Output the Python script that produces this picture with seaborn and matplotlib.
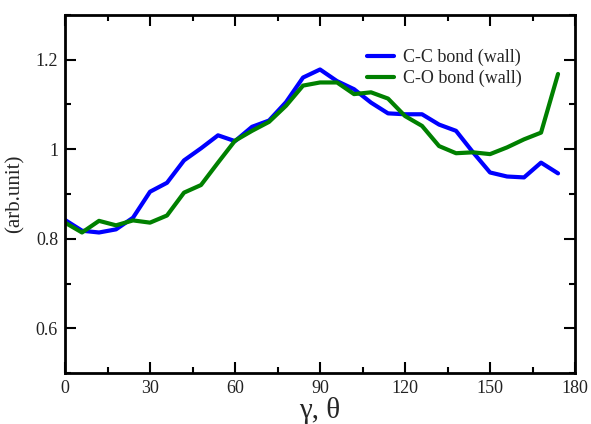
import matplotlib
matplotlib.use("Agg")
import matplotlib.pyplot as plt
import seaborn as sns
import pandas as pd
import numpy as np
from matplotlib.ticker import MultipleLocator

angles = [0, 6, 12, 18, 24, 30, 36, 42, 48, 54, 60, 66, 72, 78, 84, 90, 96, 102,
          108, 114, 120, 126, 132, 138, 144, 150, 156, 162, 168, 174]
cc_bond = [0.842, 0.818, 0.814, 0.821, 0.847, 0.905, 0.925, 0.975, 1.002, 1.031,
           1.018, 1.050, 1.064, 1.105, 1.160, 1.178, 1.152, 1.134, 1.104, 1.080,
           1.078, 1.078, 1.055, 1.041, 0.993, 0.948, 0.939, 0.937, 0.970, 0.946]
co_bond = [0.836, 0.814, 0.840, 0.830, 0.841, 0.836, 0.852, 0.903, 0.920, 0.970,
           1.019, 1.041, 1.061, 1.097, 1.142, 1.149, 1.149, 1.123, 1.127, 1.113,
           1.074, 1.052, 1.007, 0.991, 0.993, 0.989, 1.004, 1.022, 1.037, 1.168]
series_names = ["C-C bond (wall)", "C-O bond (wall)"]

df = pd.DataFrame({
    "angle": angles * 2,
    "value": cc_bond + co_bond,
    "series": [series_names[0]] * len(angles) + [series_names[1]] * len(angles),
})

sns.set_style("ticks")
plt.rcParams["font.family"] = ["Liberation Serif", "DejaVu Serif"]

fig = plt.figure(figsize=(5.91, 4.24), dpi=100)
ax = fig.add_axes([0.110, 0.120, 0.863, 0.845])

sns.lineplot(data=df, x="angle", y="value", hue="series",
             palette=["#0000ff", "#008000"], linewidth=3.0, ax=ax,
             sort=False)

ax.set_xlim(0, 180)
ax.set_ylim(0.5, 1.3)
ax.xaxis.set_major_locator(MultipleLocator(30))
ax.xaxis.set_minor_locator(MultipleLocator(15))
ax.yaxis.set_major_locator(MultipleLocator(0.2))
ax.yaxis.set_minor_locator(MultipleLocator(0.1))
ax.set_yticks([0.6, 0.8, 1.0, 1.2])
ax.set_yticklabels(["0.6", "0.8", "1", "1.2"])

ax.tick_params(which="both", direction="in", top=True, right=True,
               width=1.5, labelsize=13, colors="black", labelcolor="#222222")
ax.tick_params(which="major", length=8, pad=5)
ax.tick_params(which="minor", length=4)
for s in ax.spines.values():
    s.set_linewidth(2)
    s.set_color("black")

ax.set_xlabel("γ, θ", fontsize=21, labelpad=0)
ax.set_ylabel("(arb.unit)", fontsize=15, labelpad=8)

leg = ax.legend(loc="upper right", bbox_to_anchor=(0.91, 0.925), frameon=False,
                fontsize=13, handlelength=1.5, handletextpad=0.5,
                labelspacing=0.2, borderaxespad=0)
for line in leg.get_lines():
    line.set_linewidth(3.0)

fig.savefig("out.png", dpi=100)
